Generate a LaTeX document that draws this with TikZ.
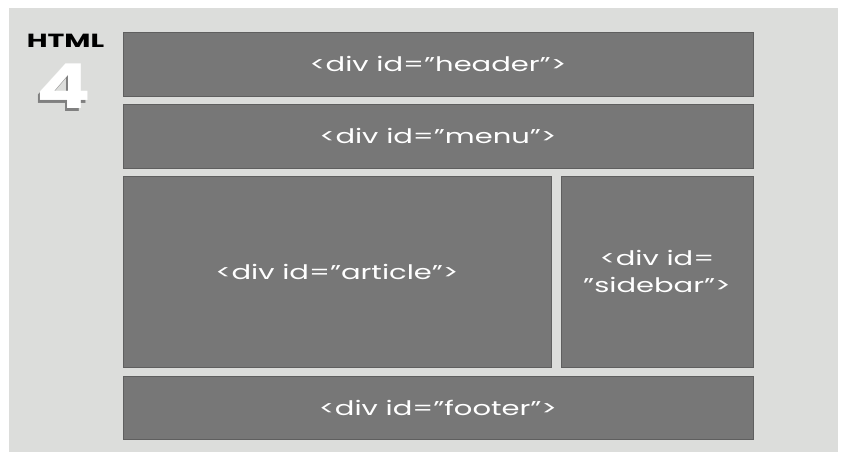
\documentclass[tikz,border=0pt]{standalone}
\usepackage{fontspec}
\setmainfont{Poppins}
\usetikzlibrary{positioning}
\definecolor{pagegray}{HTML}{DCDDDB}
\definecolor{boxgray}{HTML}{777777}
\newcommand{\widetext}[1]{\scalebox{1.45}[1]{#1}}

\begin{document}
\begin{tikzpicture}[x=1pt,y=-1pt,
  divbox/.style={fill=boxgray, draw=boxgray!80!black, line width=0.5pt, inner sep=0pt,
    text=white, font=\fontsize{20}{27}\selectfont, align=center},
  badge/.style={font=\bfseries\fontsize{19}{19}\selectfont, inner sep=0pt}]
\useasboundingbox (0,0) rectangle (846,460);
\fill[white] (0,0) rectangle (846,460);
\fill[pagegray] (9,8) rectangle (838,452);
% version badge
\node[badge] (html) at (65.5,40.5) {\scalebox{1.5}[1]{HTML}};
\node[font=\bfseries\fontsize{62}{62}\selectfont, inner sep=0pt] (four) at (64,88)
  {\scalebox{1.3}[1]{\makebox[0pt][l]{\hspace{-2pt}\raisebox{-3pt}{\color{black!50}4}}\color{white}4}};
% page blocks
\node[divbox, minimum width=630pt, minimum height=64pt] (header) at (438,64) {\widetext{<div id="header">}};
\node[divbox, minimum width=630pt, minimum height=64pt] (menu) at (438,136) {\widetext{<div id="menu">}};
\node[divbox, minimum width=428pt, minimum height=191pt] (article) at (337,271.5) {\widetext{<div id="article">}};
\node[divbox, minimum width=192pt, minimum height=191pt] (sidebar) at (657,271.5) {\widetext{<div id=}\\\widetext{"sidebar">}};
\node[divbox, minimum width=630pt, minimum height=63pt] (footer) at (438,407.5) {\widetext{<div id="footer">}};
\end{tikzpicture}
\end{document}
